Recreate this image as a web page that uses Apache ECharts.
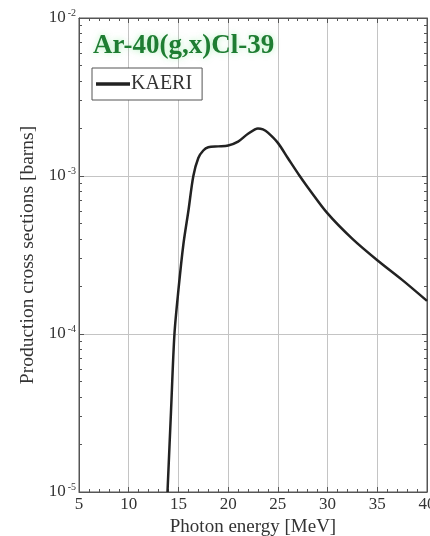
<!DOCTYPE html>
<html>
<head>
<meta charset="utf-8">
<script src="https://cdn.jsdelivr.net/npm/echarts@6/dist/echarts.min.js"></script>
<style>
html,body{margin:0;padding:0;background:#fff;}
#c{width:430px;height:536px;}
</style>
</head>
<body>
<div id="c"></div>
<script>
// Data
var titleText = 'Ar-40(g,x)Cl-39';
var seriesName = 'KAERI';
var xAxisName = 'Photon energy [MeV]';
var yAxisName = 'Production cross sections [barns]';
var xTicks = [5, 10, 15, 20, 25, 30, 35, 40];
var yDecades = [1e-5, 1e-4, 1e-3, 1e-2];
var energies = [13.9, 14.25, 14.6, 15.0, 15.5, 16.0, 16.5, 17.0, 17.5, 18.0, 19.0, 20.0, 21.0, 22.0, 23.0, 23.5, 24.0, 25.0, 26.0, 27.2, 28.0, 30.0, 32.5, 35.0, 37.5, 40.0];
var xsValues = [1.0e-5, 3.2e-5, 1.0e-4, 1.9e-4, 3.7e-4, 6.0e-4, 1.0e-3, 1.3e-3, 1.45e-3, 1.52e-3, 1.54e-3, 1.56e-3, 1.65e-3, 1.85e-3, 2.0e-3, 1.97e-3, 1.88e-3, 1.62e-3, 1.3e-3, 1.0e-3, 8.5e-4, 5.8e-4, 4.0e-4, 2.93e-4, 2.2e-4, 1.62e-4];

var minorY = [];
for (var d = 0; d < yDecades.length - 1; d++) {
  for (var m = 2; m <= 9; m++) minorY.push(m * yDecades[d]);
}

var serif = 'Liberation Serif';
var chart = echarts.init(document.getElementById('c'));
var data = energies.map(function (e, i) { return [e, xsValues[i]]; });

function supLabel(v) {
  var e = Math.round(Math.log10(v));
  return '{b|10}{s|' + e + '}';
}
var richLab = {
  b: { fontSize: 17, fontFamily: serif, color: '#333' },
  s: { fontSize: 10, fontFamily: serif, color: '#333', verticalAlign: 'top', padding: [0, 0, 10, 2] }
};

var xMin = xTicks[0], xMax = xTicks[xTicks.length - 1];
var yMin = yDecades[0], yMax = yDecades[yDecades.length - 1];

chart.setOption({
  animation: false,
  backgroundColor: '#fff',
  title: {
    text: titleText,
    left: 88, top: 28,
    textStyle: {
      fontFamily: serif, fontWeight: 'bold', fontSize: 27, color: '#1e7d32',
      textShadowColor: 'rgba(120,230,140,0.55)', textShadowBlur: 6
    }
  },
  legend: {
    left: 92, top: 68,
    orient: 'vertical',
    itemWidth: 34, itemHeight: 14, itemGap: 4,
    padding: [6, 10, 6, 4],
    borderColor: '#555', borderWidth: 1,
    backgroundColor: '#fff',
    textStyle: { fontFamily: serif, fontSize: 20, color: '#333', padding: [0, 0, 0, -4] },
    data: [{ name: seriesName, icon: 'path://M0,0 L1,0 L1,0.1 L0,0.1 Z' }]
  },
  grid: {
    left: 79, right: 3, top: 18, bottom: 44,
    outerBoundsMode: 'none',
    containLabel: false,
    show: true, borderColor: '#555', borderWidth: 1
  },
  xAxis: [{
    type: 'value', position: 'bottom', min: xMin, max: xMax, interval: 5,
    name: xAxisName, nameLocation: 'middle', nameGap: 19,
    nameTextStyle: { fontFamily: serif, fontSize: 19, color: '#333' },
    axisLine: { show: true, lineStyle: { color: '#555' } },
    axisTick: { show: true, inside: true, length: 5, lineStyle: { color: '#555' } },
    minorTick: { show: true, splitNumber: 5, length: 3, lineStyle: { color: '#555' } },
    axisLabel: { fontFamily: serif, fontSize: 17, color: '#333', margin: 4 },
    splitLine: { show: true, lineStyle: { color: '#c4c4c4', width: 1 } }
  }, {
    type: 'value', position: 'top', min: xMin, max: xMax, interval: 5,
    axisLine: { show: true, lineStyle: { color: '#555' } },
    axisTick: { show: true, inside: true, length: 5, lineStyle: { color: '#555' } },
    minorTick: { show: true, splitNumber: 5, length: 3, lineStyle: { color: '#555' } },
    axisLabel: { show: false },
    splitLine: { show: false }
  }],
  yAxis: [{
    type: 'log', position: 'left', min: yMin, max: yMax, logBase: 10,
    name: yAxisName, nameLocation: 'middle', nameGap: 37,
    nameTextStyle: { fontFamily: serif, fontSize: 19.5, color: '#333' },
    axisLine: { show: true, lineStyle: { color: '#555' } },
    axisTick: { show: true, inside: true, length: 5, lineStyle: { color: '#555' } },
    axisLabel: { formatter: supLabel, rich: richLab, margin: 3 },
    splitLine: { show: true, lineStyle: { color: '#c4c4c4', width: 1 } }
  }, {
    type: 'log', position: 'right', min: yMin, max: yMax, logBase: 10,
    axisLine: { show: true, lineStyle: { color: '#555' } },
    axisTick: { show: true, inside: true, length: 5, lineStyle: { color: '#555' } },
    axisLabel: { show: false },
    splitLine: { show: false }
  }, {
    type: 'log', position: 'left', offset: 0, min: yMin, max: yMax, logBase: 10,
    axisLine: { show: false },
    axisTick: { show: true, inside: true, length: 3, customValues: minorY, lineStyle: { color: '#555' } },
    axisLabel: { show: false },
    splitLine: { show: false }
  }, {
    type: 'log', position: 'right', offset: 0, min: yMin, max: yMax, logBase: 10,
    axisLine: { show: false },
    axisTick: { show: true, inside: true, length: 3, customValues: minorY, lineStyle: { color: '#555' } },
    axisLabel: { show: false },
    splitLine: { show: false }
  }],
  series: [{
    name: seriesName,
    type: 'line',
    xAxisIndex: 0, yAxisIndex: 0,
    data: data,
    showSymbol: false,
    smooth: 0.3,
    clip: true,
    lineStyle: { color: '#222', width: 2.5 },
    itemStyle: { color: '#222' }
  }]
});
</script>
</body>
</html>
